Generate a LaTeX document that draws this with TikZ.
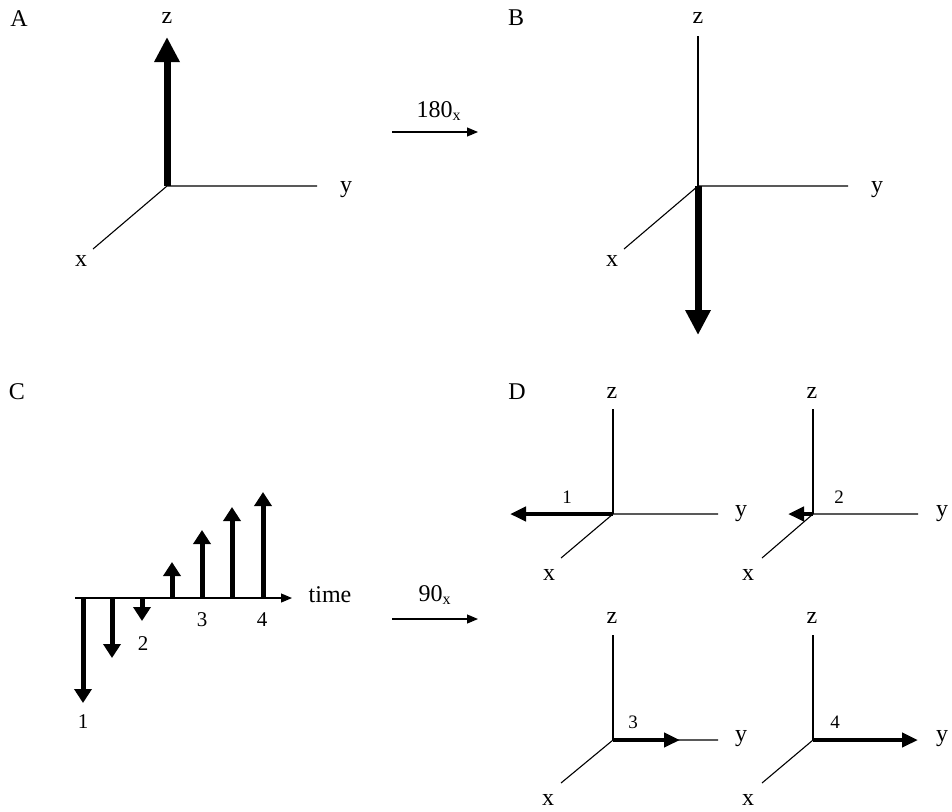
\documentclass[tikz,border=0pt]{standalone}
\usepackage{fontspec}
\setmainfont{Liberation Serif}
\usetikzlibrary{arrows.meta}
\begin{document}
\begin{tikzpicture}[x=0.5pt,y=-0.5pt]
  \tikzstyle{axis}=[line width=0.55pt]
  \tikzstyle{vecA}=[line width=3.5pt,-{Triangle[width=12pt,length=12.5pt]}]
  \tikzstyle{vecC}=[line width=2.5pt,-{Triangle[width=8.5pt,length=7pt]}]
  \tikzstyle{vecD}=[line width=2.2pt,-{Triangle[width=7pt,length=8pt]}]
  \tikzstyle{rot}=[line width=0.55pt,-{Triangle[width=4.5pt,length=5.5pt]}]
  \tikzstyle{lbl}=[inner sep=0pt,font=\fontsize{12}{14}\selectfont]
  \tikzstyle{num}=[inner sep=0pt,font=\fontsize{10.5}{12}\selectfont]
  \tikzstyle{numD}=[inner sep=0pt,font=\fontsize{9.5}{11}\selectfont]
  \tikzstyle{ang}=[inner sep=0pt,anchor=base,font=\fontsize{12}{14}\selectfont]
  \useasboundingbox (0,0) rectangle (952,811);
  % A
  \node[lbl] (A) at (19,19) {A};
  \coordinate (A_o) at (167,186);
  \coordinate (A_x) at (93,249);
  \coordinate (A_y) at (317,186);
  \coordinate (A_z) at (167,37);
  \draw[axis] (A_x) -- (A_o) -- (A_y);
  \draw[vecA] (A_o) -- (A_z);
  \node[lbl] (A_xl) at (81,261) {x};
  \node[lbl] (A_yl) at (346,190) {y};
  \node[lbl] (A_zl) at (167,18) {z};
  % rotation 180
  \coordinate (R1_s) at (392,132);
  \coordinate (R1_e) at (478,132);
  \draw[rot] (R1_s) -- (R1_e);
  \node[ang] (R1) at (439,117) {180\textsubscript{x}};
  % B
  \node[lbl] (B) at (516,18) {B};
  \coordinate (B_o) at (698,186);
  \coordinate (B_x) at (624,249);
  \coordinate (B_y) at (848,186);
  \coordinate (B_z) at (698,36);
  \coordinate (B_m) at (698,335);
  \draw[axis] (B_x) -- (B_o) -- (B_y);
  \draw[axis] (B_o) -- (B_z);
  \draw[vecA] (B_o) -- (B_m);
  \node[lbl] (B_xl) at (612,261) {x};
  \node[lbl] (B_yl) at (877,190) {y};
  \node[lbl] (B_zl) at (698,18) {z};
  % C
  \node[lbl] (C) at (17,392) {C};
  \coordinate (C_t0) at (75,598);
  \coordinate (C_t1) at (292,598);
  \draw[rot] (C_t0) -- (C_t1);
  \node[lbl] (C_time) at (330,595) {time};
  \coordinate (C_b1) at (83,598);  \coordinate (C_e1) at (83,703);
  \coordinate (C_b2) at (112,598); \coordinate (C_e2) at (112,658);
  \coordinate (C_b3) at (142,598); \coordinate (C_e3) at (142,621);
  \coordinate (C_b4) at (172,598); \coordinate (C_e4) at (172,562);
  \coordinate (C_b5) at (202,598); \coordinate (C_e5) at (202,530);
  \coordinate (C_b6) at (232,598); \coordinate (C_e6) at (232,507);
  \coordinate (C_b7) at (263,598); \coordinate (C_e7) at (263,492);
  \draw[vecC] (C_b1) -- (C_e1);
  \draw[vecC] (C_b2) -- (C_e2);
  \draw[vecC] (C_b3) -- (C_e3);
  \draw[vecC] (C_b4) -- (C_e4);
  \draw[vecC] (C_b5) -- (C_e5);
  \draw[vecC] (C_b6) -- (C_e6);
  \draw[vecC] (C_b7) -- (C_e7);
  \node[num] (C_n1) at (83,722) {1};
  \node[num] (C_n2) at (143,644) {2};
  \node[num] (C_n3) at (202,620) {3};
  \node[num] (C_n4) at (262,620) {4};
  % rotation 90
  \coordinate (R2_s) at (392,619);
  \coordinate (R2_e) at (478,619);
  \draw[rot] (R2_s) -- (R2_e);
  \node[ang] (R2) at (435,601) {90\textsubscript{x}};
  % D
  \node[lbl] (D) at (517,392) {D};
  % D1
  \coordinate (D1_o) at (613,514);
  \coordinate (D1_x) at (561,558);
  \coordinate (D1_y) at (718,514);
  \coordinate (D1_z) at (613,409);
  \coordinate (D1_v) at (510,514);
  \draw[axis] (D1_x) -- (D1_o) -- (D1_y);
  \draw[axis] (D1_o) -- (D1_z);
  \draw[vecD] (D1_o) -- (D1_v);
  \node[lbl] (D1_xl) at (549,575) {x};
  \node[lbl] (D1_yl) at (741,514) {y};
  \node[lbl] (D1_zl) at (612,393) {z};
  \node[numD] (D1_n) at (567,497) {1};
  % D2
  \coordinate (D2_o) at (813,514);
  \coordinate (D2_x) at (762,558);
  \coordinate (D2_y) at (918,514);
  \coordinate (D2_z) at (813,409);
  \coordinate (D2_v) at (788,514);
  \draw[axis] (D2_x) -- (D2_o) -- (D2_y);
  \draw[axis] (D2_o) -- (D2_z);
  \draw[vecD] (D2_o) -- (D2_v);
  \node[lbl] (D2_xl) at (748,575) {x};
  \node[lbl] (D2_yl) at (942,514) {y};
  \node[lbl] (D2_zl) at (812,393) {z};
  \node[numD] (D2_n) at (839,497) {2};
  % D3
  \coordinate (D3_o) at (613,740);
  \coordinate (D3_x) at (561,783);
  \coordinate (D3_y) at (718,740);
  \coordinate (D3_z) at (613,635);
  \coordinate (D3_v) at (680,740);
  \draw[axis] (D3_x) -- (D3_o) -- (D3_y);
  \draw[axis] (D3_o) -- (D3_z);
  \draw[vecD] (D3_o) -- (D3_v);
  \node[lbl] (D3_xl) at (548,800) {x};
  \node[lbl] (D3_yl) at (741,739) {y};
  \node[lbl] (D3_zl) at (612,618) {z};
  \node[numD] (D3_n) at (633,722) {3};
  % D4
  \coordinate (D4_o) at (813,740);
  \coordinate (D4_x) at (762,783);
  \coordinate (D4_y) at (918,740);
  \coordinate (D4_z) at (813,635);
  \draw[axis] (D4_x) -- (D4_o);
  \draw[axis] (D4_o) -- (D4_z);
  \draw[vecD] (D4_o) -- (D4_y);
  \node[lbl] (D4_xl) at (748,800) {x};
  \node[lbl] (D4_yl) at (942,739) {y};
  \node[lbl] (D4_zl) at (812,618) {z};
  \node[numD] (D4_n) at (835,722) {4};
\end{tikzpicture}
\end{document}
